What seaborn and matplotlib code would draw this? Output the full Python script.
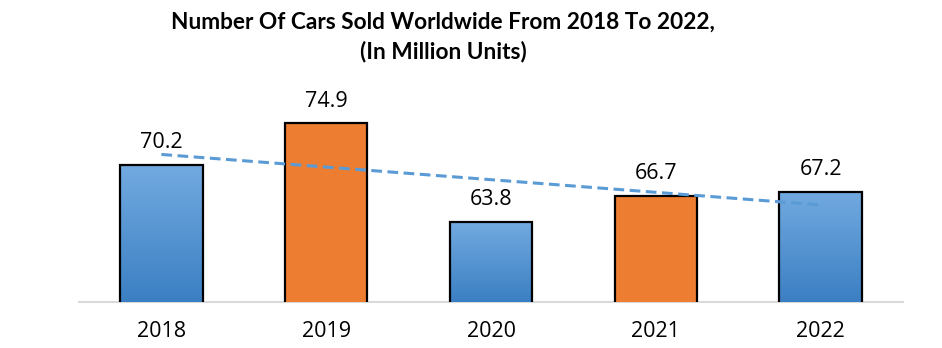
import numpy as np
import pandas as pd
import matplotlib
matplotlib.use("Agg")
import matplotlib.pyplot as plt
import seaborn as sns
from matplotlib.colors import LinearSegmentedColormap

years = ["2018", "2019", "2020", "2021", "2022"]
units = [70.2, 74.9, 63.8, 66.7, 67.2]
bar_kind = ["blue", "orange", "blue", "orange", "blue"]
title_lines = "Number Of Cars Sold Worldwide From 2018 To 2022,\n(In Million Units)"

sns.set_theme(style="white")
plt.rcParams['font.family'] = ['Open Sans', 'DejaVu Sans']
plt.rcParams['text.color'] = 'black'
plt.rcParams['xtick.color'] = 'black'

df = pd.DataFrame({"year": years, "units": units, "kind": bar_kind})
df["pos"] = np.arange(len(years))

fig = plt.figure(figsize=(9.42, 3.48), dpi=100)
ax = fig.add_axes([79 / 942, 46 / 348, 824 / 942, 224 / 348])

palette = {"blue": "#5597D6", "orange": "#ED7D31"}
sns.barplot(data=df, x="year", y="units", hue="kind", palette=palette,
            width=0.5, edgecolor="black", linewidth=1.6, legend=False,
            dodge=False, saturation=1, ax=ax, zorder=3)

ax.set_ylim(54.8, 80.0)
ax.set_xlim(-0.5, 4.5)

# gradient fill for blue bars
cmap = LinearSegmentedColormap.from_list("g", ["#3B7FC3", "#72AAE0"])
grad = np.linspace(0, 1, 256).reshape(-1, 1)
for p in ax.patches:
    fc = p.get_facecolor()
    if fc[2] > fc[0]:
        x0, y0 = p.get_x(), p.get_y()
        w, h = p.get_width(), p.get_height()
        im = ax.imshow(grad, cmap=cmap, origin="lower", aspect="auto",
                       extent=[x0, x0 + w, max(y0, 54.8), y0 + h], zorder=2.5)
        im.set_clip_path(p)
        p.set_facecolor("none")

ax.set_xlim(-0.5, 4.5)
ax.set_ylim(54.8, 80.0)

# linear trendline
sns.regplot(data=df, x="pos", y="units", scatter=False, ci=None, ax=ax,
            line_kws=dict(color="#5B9BD5", lw=2.2, ls=(0, (3.5, 1.8)), zorder=5))

for i, v in enumerate(units):
    ax.annotate(f"{v:.1f}", (i, v), xytext=(0, 8.5), textcoords="offset points",
                ha="center", va="bottom", fontsize=15.5, color="black")

ax.set_xlabel("")
ax.set_ylabel("")
ax.set_yticks([])
ax.set_xticks(range(len(years)))
ax.set_xticklabels(years, fontsize=15.5, color="black")
ax.tick_params(axis="x", length=0, pad=14)
for s in ["left", "right", "top"]:
    ax.spines[s].set_visible(False)
ax.spines["bottom"].set_color("#D9D9D9")
ax.spines["bottom"].set_linewidth(1.5)
ax.spines["bottom"].set_zorder(1)

fig.text(443 / 942, 1 - 37 / 348, title_lines, ha="center", va="center",
         fontsize=16.3, fontweight="bold", linespacing=1.45,
         family=["Lato", "DejaVu Sans"], color="black")

fig.savefig("out.png", dpi=100)
